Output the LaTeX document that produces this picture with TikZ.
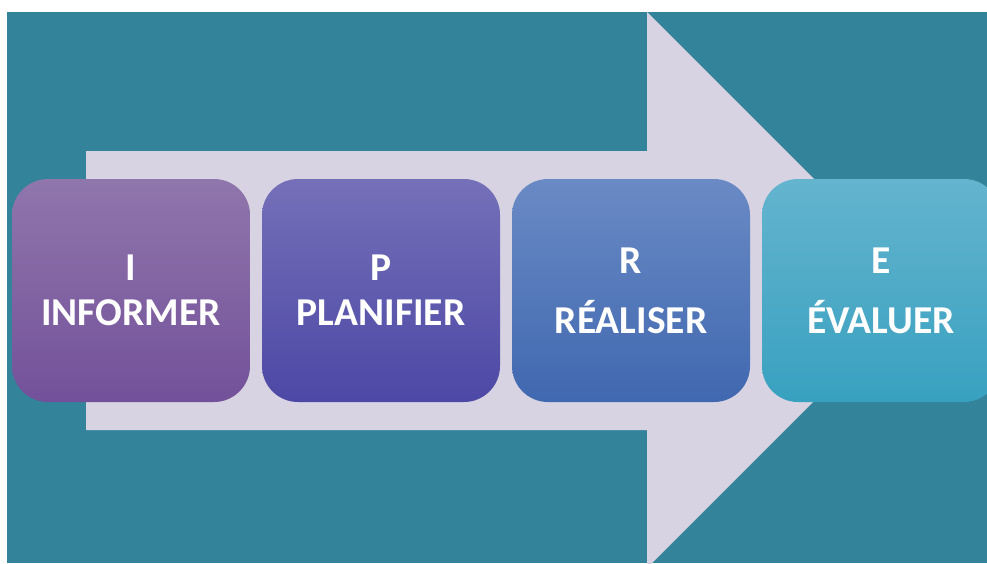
\documentclass[tikz,border=0pt]{standalone}
\usepackage{fontspec}
\setmainfont{Carlito}
\definecolor{tealbg}{HTML}{33839A}
\definecolor{arrowfill}{HTML}{D7D3E2}
\definecolor{iTop}{HTML}{8F76AB}
\definecolor{iBot}{HTML}{73519A}
\definecolor{pTop}{HTML}{7570B8}
\definecolor{pBot}{HTML}{4C48A5}
\definecolor{rTop}{HTML}{6A8AC4}
\definecolor{rBot}{HTML}{4068B0}
\definecolor{eTop}{HTML}{64B4CE}
\definecolor{eBot}{HTML}{38A1C0}
\tikzset{
  stage/.style={rounded corners=36pt, minimum width=238pt, minimum height=223pt,
    inner sep=0pt, align=center, text=white,
    font=\fontsize{39.5}{45}\selectfont\bfseries},
}
\begin{document}
\begin{tikzpicture}[x=1pt,y=-1pt]
  \useasboundingbox (0,0) rectangle (987,563);
  \fill[white] (0,0) rectangle (987,563);
  \clip (0,0) rectangle (987,563);
  \fill[tealbg] (7,12) rectangle (987,563);
  \fill[arrowfill] (86,151) -- (647,151) -- (647,12) -- (925,290)
     -- (647,568) -- (647,430) -- (86,430) -- cycle;
  \node[stage, top color=iTop, bottom color=iBot] (I) at (131,290.5) {I\\INFORMER};
  \node[stage, top color=pTop, bottom color=pBot] (P) at (381,290.5) {P\\PLANIFIER};
  \node[stage, top color=rTop, bottom color=rBot] (R) at (631,290.5) {R\\[15pt]RÉALISER};
  \node[stage, top color=eTop, bottom color=eBot] (E) at (881,290.5) {E\\[15pt]ÉVALUER};
\end{tikzpicture}
\end{document}
